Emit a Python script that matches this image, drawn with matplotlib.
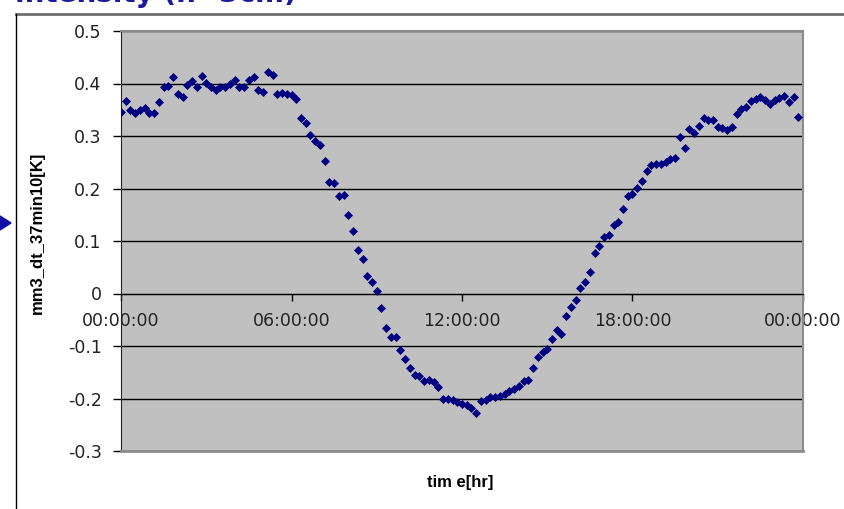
import matplotlib
matplotlib.use("Agg")
import matplotlib.pyplot as plt
import numpy as np
from matplotlib.lines import Line2D
from matplotlib.patches import Polygon

# 10-minute samples over one day
time_min = np.arange(0, 1440, 10)
dt_values = [
    0.345, 0.366, 0.349, 0.343, 0.350, 0.354, 0.343, 0.343, 0.364, 0.393,
    0.396, 0.412, 0.380, 0.375, 0.398, 0.404, 0.394, 0.415, 0.401, 0.393,
    0.387, 0.393, 0.393, 0.399, 0.406, 0.394, 0.393, 0.406, 0.412, 0.387,
    0.384, 0.422, 0.417, 0.380, 0.382, 0.380, 0.379, 0.371, 0.335, 0.324,
    0.301, 0.290, 0.282, 0.253, 0.212, 0.210, 0.185, 0.187, 0.150, 0.119,
    0.083, 0.066, 0.034, 0.022, 0.004, -0.027, -0.065, -0.083, -0.083, -0.108,
    -0.124, -0.142, -0.156, -0.158, -0.166, -0.164, -0.168, -0.178, -0.201, -0.201,
    -0.202, -0.207, -0.210, -0.213, -0.218, -0.227, -0.205, -0.202, -0.198, -0.198,
    -0.196, -0.191, -0.185, -0.182, -0.177, -0.167, -0.164, -0.142, -0.120, -0.112,
    -0.105, -0.086, -0.070, -0.077, -0.042, -0.026, -0.013, 0.010, 0.021, 0.041,
    0.078, 0.091, 0.107, 0.112, 0.131, 0.136, 0.161, 0.185, 0.189, 0.201,
    0.214, 0.233, 0.245, 0.246, 0.247, 0.250, 0.257, 0.259, 0.298, 0.277,
    0.314, 0.305, 0.320, 0.335, 0.330, 0.331, 0.318, 0.316, 0.312, 0.317,
    0.341, 0.352, 0.356, 0.366, 0.371, 0.374, 0.369, 0.361, 0.368, 0.373,
    0.377, 0.364, 0.374, 0.337,
]
x_ticks = [0, 6, 12, 18, 24]
x_tick_labels = ["00:00:00", "06:00:00", "12:00:00", "18:00:00", "00:00:00"]
y_ticks = [-0.3, -0.2, -0.1, 0.0, 0.1, 0.2, 0.3, 0.4, 0.5]
y_tick_labels = ["-0.3", "-0.2", "-0.1", "0", "0.1", "0.2", "0.3", "0.4", "0.5"]

W, H = 844, 509
fig = plt.figure(figsize=(W / 100, H / 100), dpi=100)
ax = fig.add_axes([121 / W, 1 - 451 / H, 682 / W, 420 / H])
ax.set_facecolor("#c0c0c0")

hours = time_min / 60.0
ax.plot(hours, dt_values, linestyle="none", marker="D", markersize=4.4,
        color="#000080", markeredgewidth=0.5, zorder=4)

ax.set_xlim(0, 24)
ax.set_ylim(-0.3, 0.5)
ax.set_yticks(y_ticks)
ax.set_yticklabels(y_tick_labels)
ax.set_xticks(x_ticks)
ax.set_xticklabels(x_tick_labels)

ax.yaxis.grid(True, color="black", linewidth=1.0, zorder=1)
ax.set_axisbelow(True)

# x axis crosses at zero like Excel
ax.spines["bottom"].set_position(("data", 0))
ax.spines["bottom"].set_color("black")
for side in ["top", "right"]:
    ax.spines[side].set_color("#8c8c8c")
    ax.spines[side].set_linewidth(1.5)
ax.spines["left"].set_color("#202020")
ax.axhline(-0.3, color="#8c8c8c", linewidth=2.0, zorder=3, clip_on=False)

ax.tick_params(axis="y", direction="out", length=6, width=1, pad=8,
               labelsize=12.5, colors="black")
ax.tick_params(axis="x", direction="out", length=5, width=1, pad=8,
               labelsize=12.5)
for lab in ax.get_yticklabels() + ax.get_xticklabels():
    lab.set_color("#222222")

ax.set_ylabel("mm3_dt_37min10[K]", fontsize=12, fontweight="bold",
              family="Liberation Sans")
ax.yaxis.set_label_coords(-0.111, 0.52)
ax.set_xlabel("tim e[hr]", fontsize=12, fontweight="bold",
              family="Liberation Sans")
ax.xaxis.set_label_coords(0.497, -0.074)
ax.xaxis.label.set_va("center")

# chart-area border, partly off the page
fig.add_artist(Line2D([16 / W, 1], [1 - 14 / H, 1 - 14 / H],
                      color="#707070", linewidth=2, transform=fig.transFigure))
fig.add_artist(Line2D([16 / W, 16 / W], [1 - 14 / H, 0],
                      color="black", linewidth=1, transform=fig.transFigure))

# slide title cut off at the top
fig.text(15 / W, 1 - 2 / H, "intensity (h=3cm)", fontsize=20, fontweight="bold",
         color="#1a1aa0", ha="left", va="baseline")

# arrow pointer on the left edge
fig.patches.append(Polygon([[0, 1 - 216 / H], [11 / W, 1 - 223 / H], [0, 1 - 230 / H]],
                           closed=True, color="#1010a8", transform=fig.transFigure))

fig.savefig("out.png", dpi=100)
